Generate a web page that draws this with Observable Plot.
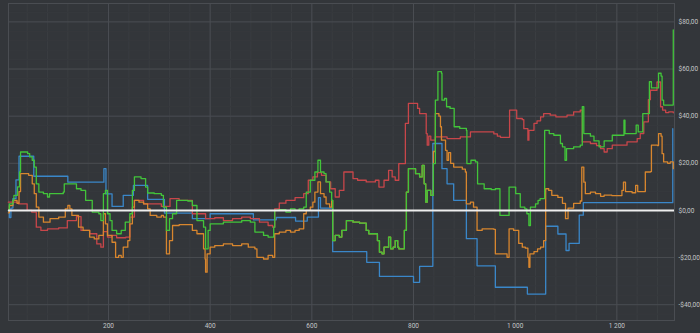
<!DOCTYPE html>
<html>
<head>
<meta charset="utf-8">
<script src="https://cdn.jsdelivr.net/npm/d3@7"></script>
<script src="https://cdn.jsdelivr.net/npm/@observablehq/plot@0.6"></script>
<style>
  html, body { margin: 0; padding: 0; background: #33363a; }
  #chart svg { display: block; }
</style>
</head>
<body>
<div id="chart"></div>
<script>
// ---- data: step series as [x, value] breakpoints ----
const blue = [[3,0],[5,-3],[8,1],[12,5],[18,13],[24,23],[53,14.5],[120,12],[191,17.7],[195,7],[207,1.7],[229,6.4],[249,10.6],[277,4.7],[310,-1.1],[365,-3.5],[400,-1.4],[485,-4],[530,-3],[568,-4.5],[591,-2.8],[613,5.4],[617,1],[641,-17.5],[708,-22],[733,-28],[800,-30.5],[812,-23.7],[838,28.4],[856,17.7],[866,11.3],[879,4.3],[904,-12],[925,-23.5],[961,-32.6],[1024,-35.5],[1060,-6.7],[1084,-10],[1100,-17],[1106,-14],[1126,-2],[1134,3.3],[1310,34.7]];

const red = [[3,3.5],[23,2.8],[40,0],[49,-0.7],[58,-7.1],[67,-8.5],[80,-7.8],[102,-7.4],[119,-4.3],[137,-2.6],[146,-8.5],[163,-9.9],[177,-14.2],[185,-15.6],[190,-9],[198,-11.3],[207,-10.6],[216,-11.6],[234,-11.3],[242,-2.8],[251,4.3],[269,2.8],[304,1.7],[321,5],[339,4.3],[365,-1.4],[391,-3.5],[409,-3.1],[426,-4.3],[444,-3.5],[462,-2.8],[479,-3.5],[497,-5],[514,-6.4],[523,-7.1],[527,0.7],[536,3.1],[549,4.3],[567,5.4],[584,7.1],[593,12.8],[602,14.2],[611,16],[619,14.9],[628,12.1],[637,9.2],[646,5.7],[654,8.5],[663,16.3],[681,13.5],[690,12.8],[707,12.1],[725,12.8],[732,9.9],[742,12.8],[751,17],[758,14.2],[764,12.8],[771,19.9],[784,36.9],[790,45.4],[808,43.3],[812,41.1],[825,32.6],[827,27.7],[830,31.5],[834,29.8],[843,31.2],[866,30.5],[892,31.2],[912,33.3],[958,32.5],[965,31.5],[971,31],[989,42.6],[1003,39],[1014,38.5],[1017,34.7],[1025,29.8],[1027,34],[1037,36.9],[1043,38],[1050,39.7],[1056,41.1],[1069,40.4],[1080,39.7],[1102,40.4],[1115,41.8],[1128,42.6],[1132,29.1],[1148,28.4],[1160,27.5],[1168,26.2],[1175,24.8],[1181,26.2],[1191,27.7],[1220,29.1],[1240,30.5],[1246,32.6],[1253,37.6],[1262,47],[1266,51],[1272,51],[1279,54.5],[1286,44],[1290,42.6],[1296,41.5],[1302,41.8],[1311,41.4]];

const green = [[3,0],[5,2.8],[12,4.3],[14,6.4],[21,10],[25,16.3],[27,24.8],[41,24.1],[45,22.7],[50,21.3],[54,18.4],[58,11.3],[63,7.8],[72,7.1],[80,5.7],[84,7.1],[111,7.8],[113,11.3],[137,9.2],[146,8.5],[155,4.3],[168,-0.7],[181,-1.4],[185,-4.3],[190,7.1],[194,8.5],[198,-1.4],[203,-4.3],[207,-8.5],[216,-9.9],[225,-8.5],[233,-5],[242,-1.4],[247,8.5],[251,14.2],[264,13.5],[273,9.9],[277,7.4],[290,7.1],[304,6.4],[308,1.4],[314,-8.5],[320,-3.5],[326,-1.4],[334,4.3],[356,4],[365,2.1],[374,-4.3],[387,-7.1],[391,-16.3],[396,-8.5],[400,-5.7],[426,-5],[444,-5],[462,-4.3],[479,-5],[488,-9.2],[505,-10.6],[514,-11.3],[525,-7.1],[527,0],[536,0.3],[549,-0.7],[558,0.7],[567,0],[575,0.7],[584,1.4],[589,7.8],[597,12.8],[606,16.3],[612,21.3],[617,16.3],[624,15.6],[628,12.1],[635,7.8],[639,4.3],[641,-12.8],[646,-10.6],[654,-11.3],[659,-8.5],[668,-4.3],[681,-5],[694,-5.4],[707,-8.5],[712,-9.9],[725,-9.9],[729,-12.8],[733,-17.7],[738,-18.4],[742,-15.6],[751,-11.3],[755,-16.3],[760,-15.6],[764,-12.8],[769,-15.6],[771,-16.3],[782,-8.5],[786,7.8],[790,17.7],[804,15.6],[812,14.2],[817,19.1],[821,11.3],[824,3.5],[827,8.5],[834,6.4],[839,19.9],[843,46.8],[848,58.9],[855,58.2],[856,46.8],[861,47.5],[865,44],[872,43.3],[880,35.5],[891,34.8],[904,34],[905,19.9],[913,21.3],[922,20.6],[926,11.3],[939,9.2],[953,8.8],[961,9.2],[970,-2.1],[983,-2.1],[988,9.9],[1001,7.1],[1010,1.4],[1019,0.7],[1023,-1.4],[1027,-6.4],[1030,1.4],[1040,2.8],[1045,4.3],[1049,5],[1058,34],[1067,32.6],[1076,31.9],[1089,28.4],[1093,27],[1098,21.3],[1101,26.2],[1115,27],[1128,27.7],[1132,44],[1135,32.6],[1148,31.5],[1155,29.5],[1165,27],[1175,29.5],[1191,31.9],[1212,31.9],[1214,38.3],[1216,32.6],[1236,32.6],[1238,36.2],[1242,33.3],[1251,41.1],[1264,54.6],[1268,52],[1280,52],[1282,58.2],[1287,57],[1289,46.8],[1292,44.7],[1308,44.7],[1311,76.6]];

const orange = [[3,-1],[5,2],[12,4.3],[20,3],[24,8],[27,15.6],[41,15.6],[43,14.9],[50,11.3],[54,7.1],[58,1.4],[63,-2.8],[72,-5],[85,-3.5],[102,-2.8],[115,0.7],[120,2.1],[124,0.7],[128,-2.1],[141,-7.1],[150,-8.5],[163,-11.3],[172,-12.1],[181,-10.6],[190,-1.4],[194,-5.7],[198,-10.6],[207,-13.5],[214,-19.9],[220,-19.1],[225,-19.9],[229,-15.6],[238,-12.8],[242,-5.7],[247,1.4],[251,4.3],[260,3.5],[269,2.8],[277,0.7],[282,-2.1],[295,-2.8],[304,-2.1],[308,-2.8],[314,-18.4],[320,-12.8],[326,-6.4],[339,-6],[365,-8.5],[374,-9.9],[387,-16.3],[390,-20.6],[391,-26.2],[394,-18.4],[400,-15.6],[409,-14.9],[426,-14.2],[444,-14.9],[462,-14.2],[475,-15.6],[488,-16.3],[492,-19.9],[505,-20.6],[514,-19.1],[523,-19.9],[527,-9.9],[536,-9.2],[549,-8.5],[558,-9.2],[567,-8.5],[575,-7.8],[584,-1.4],[589,0],[597,1.4],[602,3.5],[606,7.8],[612,12.1],[617,7.1],[624,5.7],[628,2.8],[635,1.4],[639,4.3],[641,-12.8],[646,-10.6],[654,-11.3],[659,-8.5],[668,-4.3],[681,-5],[694,-5.4],[707,-8.5],[712,-9.9],[725,-9.9],[729,-12.8],[733,-17.7],[738,-18.4],[742,-15.6],[751,-11.3],[755,-16.3],[760,-15.6],[764,-12.8],[769,-15.6],[771,-16.3],[782,-8.5],[786,7.8],[790,17.7],[804,15.6],[812,14.2],[817,19.1],[821,11.3],[824,3.5],[827,8.5],[834,6.4],[839,25],[843,41.1],[850,40],[853,35.5],[855,29.8],[863,25.5],[866,21.3],[869,24.5],[873,20],[879,18.4],[896,17.5],[902,16.3],[904,2.8],[912,3.5],[918,1.4],[925,-8.5],[935,-7.8],[958,-8],[961,-18.4],[984,-19.9],[988,-7.8],[997,-8.5],[1007,-14],[1014,-15.6],[1020,-16],[1025,-19.9],[1027,-24.1],[1029,-18.4],[1037,-17.5],[1044,-16.3],[1050,-15.6],[1056,-12.8],[1060,9.2],[1066,8.5],[1072,6.4],[1084,5.5],[1093,3],[1099,-3.5],[1104,1],[1115,3],[1128,4],[1131,18.4],[1135,12],[1138,7.1],[1148,7.8],[1158,7.1],[1168,6],[1175,6.5],[1190,6.3],[1210,8.5],[1213,12],[1217,8],[1230,7.5],[1237,10.6],[1241,8],[1256,16.3],[1266,16.5],[1268,27.7],[1280,27.5],[1282,32.6],[1287,31.5],[1289,24.1],[1292,20.6],[1300,20],[1305,20.6],[1311,17.7]];

const xTicks = [200, 400, 600, 800, 1000, 1200];
const yTicks = [-40, -20, 0, 20, 40, 60, 80];
const xMinor = d3.range(40, 1313, 40);
const yMinor = d3.range(-44, 88, 4);

const fmtX = d => String(d).replace(/\B(?=(\d{3})+(?!\d))/g, " ");
const fmtY = d => (d < 0 ? "-" : "") + "$" + Math.abs(d).toFixed(2).replace(".", ",");

const series = [
  {data: blue, color: "#3a87c9"},
  {data: red, color: "#c8464a"},
  {data: orange, color: "#d8862e"},
  {data: green, color: "#42c43a"}
];

const chart = Plot.plot({
  width: 700,
  height: 333,
  marginLeft: 8,
  marginRight: 26,
  marginTop: 3,
  marginBottom: 13,
  style: {background: "#33363a", color: "#c4c6c8", fontFamily: "Roboto, 'DejaVu Sans', sans-serif", fontSize: "6.5px"},
  x: {domain: [3.3, 1313.4]},
  y: {domain: [-46.7, 87.8]},
  marks: [
    Plot.ruleX(xMinor, {stroke: "#3a3d41", strokeWidth: 1}),
    Plot.ruleY(yMinor, {stroke: "#36393d", strokeWidth: 1}),
    Plot.ruleX(xTicks, {stroke: "#4a4d52", strokeWidth: 1}),
    Plot.ruleY(yTicks, {stroke: "#4a4d52", strokeWidth: 1}),
    Plot.frame({stroke: "#4a4d52"}),
    Plot.axisX({ticks: xTicks, tickFormat: fmtX, tickSize: 0, tickPadding: 3, label: null}),
    Plot.axisY({anchor: "right", ticks: yTicks, tickFormat: fmtY, tickSize: 0, tickPadding: 4, label: null}),
    ...series.map(s => Plot.line(s.data, {x: d => d[0], y: d => d[1], curve: "step-after", stroke: s.color, strokeWidth: 1.3})),
    Plot.ruleY([0], {stroke: "#eeeeee", strokeWidth: 2})
  ]
});
document.getElementById("chart").appendChild(chart);
</script>
</body>
</html>
